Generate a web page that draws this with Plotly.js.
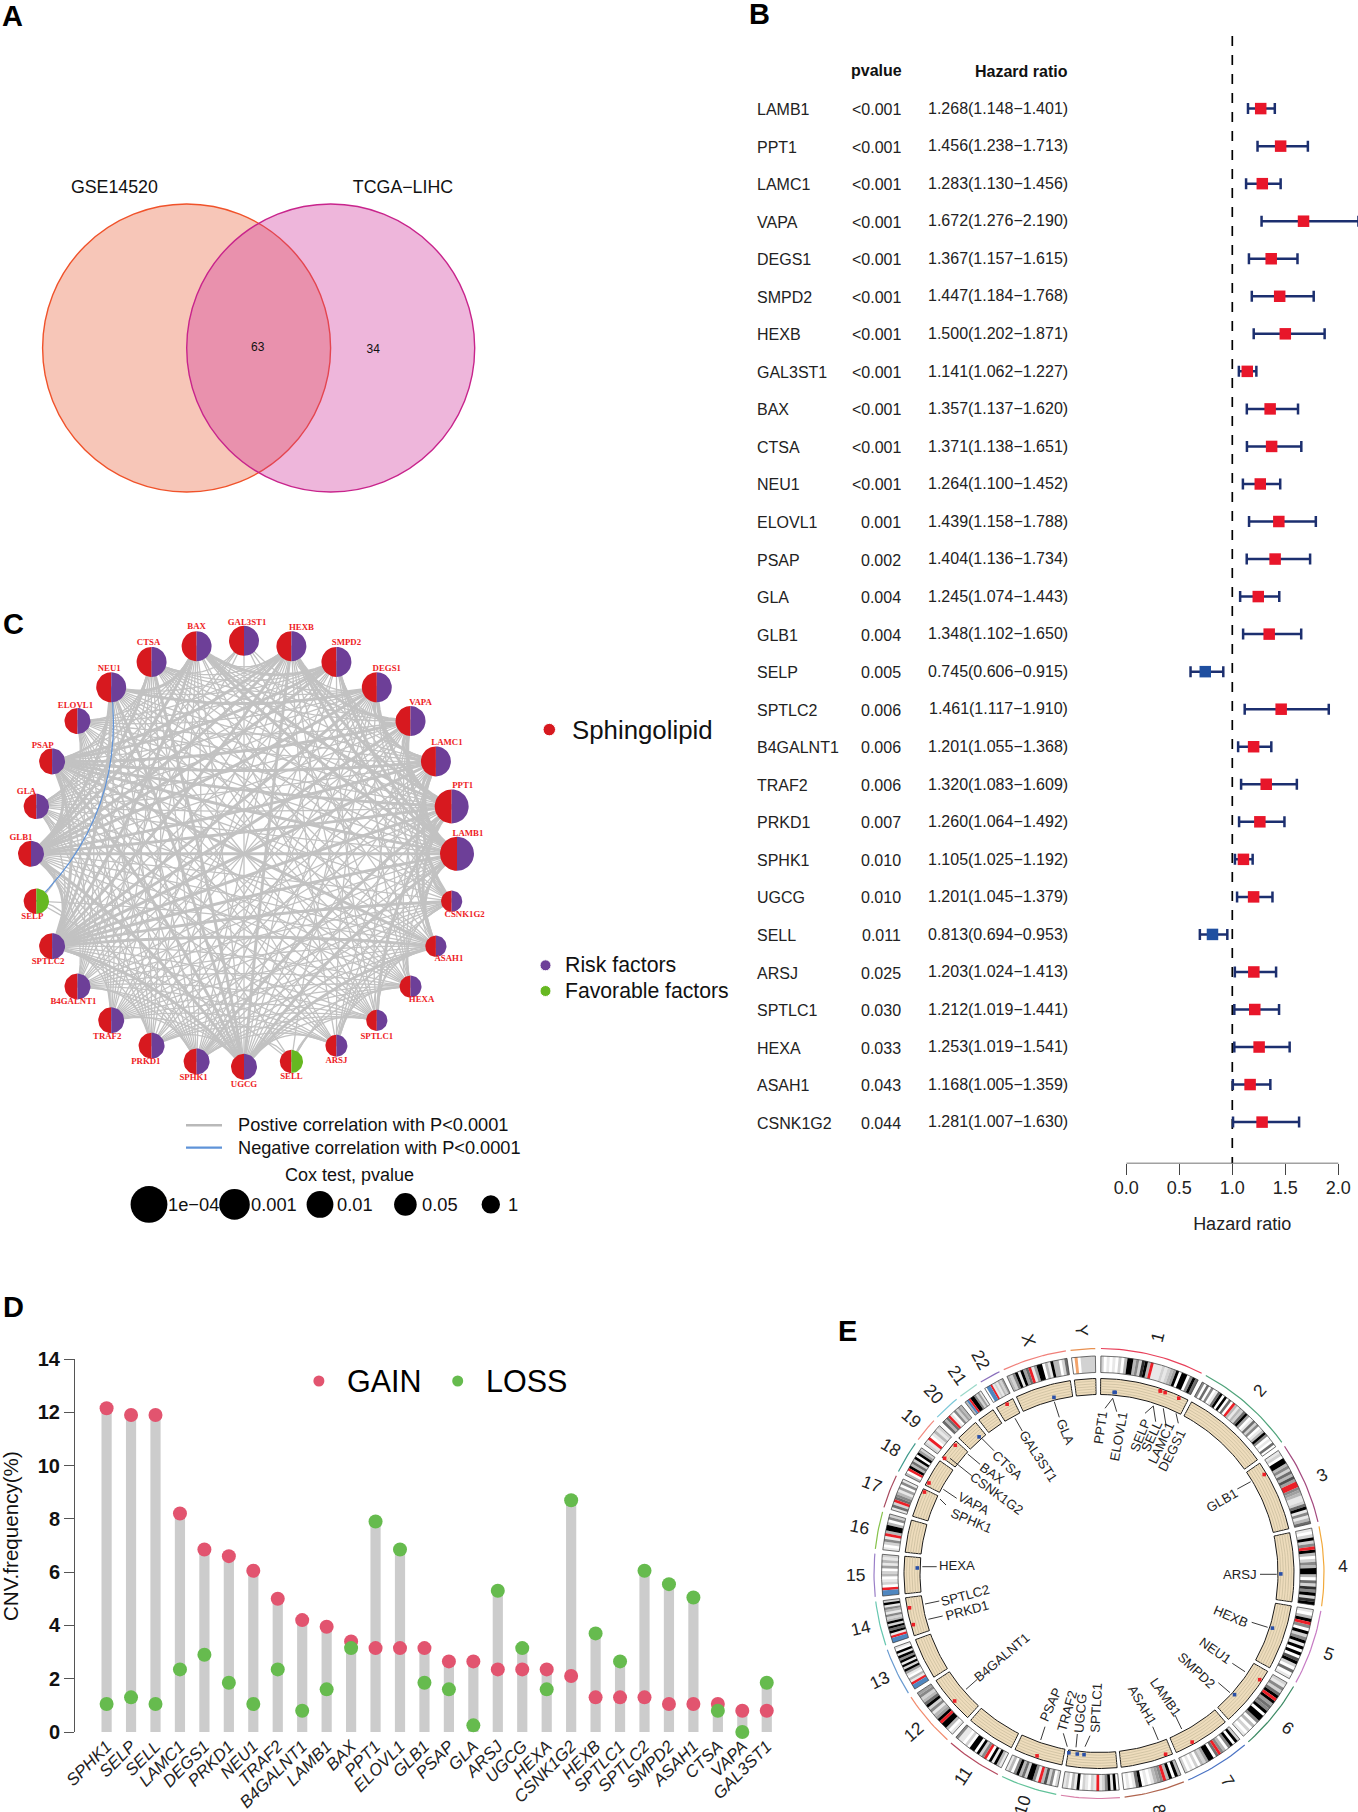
<!DOCTYPE html>
<html><head><meta charset="utf-8">
<script src="https://cdn.plot.ly/plotly-3.0.1.min.js"></script>
<style>html,body{margin:0;padding:0;background:#fff}#chart{width:1358px;height:1812px}</style>
</head><body><div id="chart"></div>
<script>
// ---------- shared categories ----------
const genes=["LAMB1","PPT1","LAMC1","VAPA","DEGS1","SMPD2","HEXB","GAL3ST1","BAX","CTSA","NEU1","ELOVL1","PSAP","GLA","GLB1","SELP","SPTLC2","B4GALNT1","TRAF2","PRKD1","SPHK1","UGCG","SELL","ARSJ","SPTLC1","HEXA","ASAH1","CSNK1G2"];
// ---------- panel A ----------
const vennLabels=["GSE14520","TCGA−LIHC"];
const vennCounts=[63,34];
// ---------- panel B ----------
const pvalues=["<0.001","<0.001","<0.001","<0.001","<0.001","<0.001","<0.001","<0.001","<0.001","<0.001","<0.001","0.001","0.002","0.004","0.004","0.005","0.006","0.006","0.006","0.007","0.010","0.010","0.011","0.025","0.030","0.033","0.043","0.044"];
const hazard=[1.268,1.456,1.283,1.672,1.367,1.447,1.500,1.141,1.357,1.371,1.264,1.439,1.404,1.245,1.348,0.745,1.461,1.201,1.320,1.260,1.105,1.201,0.813,1.203,1.212,1.253,1.168,1.281];
const hazardLow=[1.148,1.238,1.130,1.276,1.157,1.184,1.202,1.062,1.137,1.138,1.100,1.158,1.136,1.074,1.102,0.606,1.117,1.055,1.083,1.064,1.025,1.045,0.694,1.024,1.019,1.019,1.005,1.007];
const hazardHigh=[1.401,1.713,1.456,2.190,1.615,1.768,1.871,1.227,1.620,1.651,1.452,1.788,1.734,1.443,1.650,0.915,1.910,1.368,1.609,1.492,1.192,1.379,0.953,1.413,1.441,1.541,1.359,1.630];
// ---------- panel C ----------
const coxLegendLabels=["1e−04","0.001","0.01","0.05","1"];
const linksThick=[[1,2,3,5,6,8,12,14,16,21,26,27],[2,3,4,6,8,12,14,16,20,24,26],[3,4,12,14,16,26,27],[4,6,12,16],[10,14,16],[8,12,14],[12,14,16,21],[],[10,14,16],[14,21],[14,16,21],[],[14,16,21,26],[],[16,21],[],[21,26,27],[],[],[],[],[26]];
const linksThin=[[4,7,9,10,11,13,17,18,19,20,23,25],[5,9,10,11,13,17,18,21,23,25],[5,6,8,9,10,11,13,18,19,20,21,23,25],[5,7,8,9,11,13,14,17,18,19,20,21,24,25,26,27],[6,8,9,11,12,13,17,18,19,20,21,22,23,25,27],[6,9,10,11,13,16,17,18,20,21,24,26,27],[8,9,10,11,13,17,18,19,20,23,24,25,27],[9,13,14,16,21,26],[9,11,12,13,17,18,19,20,21,24,25,27],[11,12,13,16,17,18,19,20,24,25,26,27],[12,13,17,18,19,20,23,24,25,26,27],[13,14,16,17,18,19,20,21,23,24,25,26],[13,17,18,19,20,22,23,24,25,27],[14,16,18,19,20,21,23,24,25,26],[15,17,18,19,20,23,24,25,26,27],[16,20,26],[18,19,20,22,23,24,25],[19,20,21,23,24,25,26,27],[20,21,23,24,25,26,27],[21,23,24,25,26,27],[23,24,25,26,27],[22,23,24,25,27],[24,25,26],[24,25,26,27],[25,26,27],[26,27],[27]];
const linksNegative=[[10,15]];
const favorableGenes=["SELP","SELL"];
// ---------- panel D ----------
const cnvGenes=["SPHK1","SELP","SELL","LAMC1","DEGS1","PRKD1","NEU1","TRAF2","B4GALNT1","LAMB1","BAX","PPT1","ELOVL1","GLB1","PSAP","GLA","ARSJ","UGCG","HEXA","CSNK1G2","HEXB","SPTLC1","SPTLC2","SMPD2","ASAH1","CTSA","VAPA","GAL3ST1"];
const cnvGain=[12.15,11.9,11.9,8.2,6.85,6.6,6.05,5.0,4.2,3.95,3.4,3.15,3.15,3.15,2.65,2.65,2.35,2.35,2.35,2.1,1.3,1.3,1.3,1.05,1.05,1.05,0.8,0.8];
const cnvLoss=[1.05,1.3,1.05,2.35,2.9,1.85,1.05,2.35,0.8,1.6,3.15,7.9,6.85,1.85,1.6,0.25,5.3,3.15,1.6,8.7,3.7,2.65,6.05,5.55,5.05,0.8,0,1.85];
// ---------- panel E ----------
const chrNames=["1","2","3","4","5","6","7","8","9","10","11","12","13","14","15","16","17","18","19","20","21","22","X","Y"];
const chrLength=[249,243,198,191,181,171,159,146,141,136,135,134,115,107,103,90,81,78,59,63,48,51,155,59];
const chrBands=["20101020399352893r1112123490990596","50605016909060r3132694016250139501060","120993526374rr5431126915136","102925r930253993062859289","1039r509259190907920601","215269r946590995030201","29095035r6099423020102","39093r5431010961010","0919521r120120913021","205273r159926395031","139190r529099020115","10399r943152963254","bbr1301492919591901","bbr196929325135192","bbr021032041312","10251r3993052","162r65314051","30r936290942","21r01312","636r105243","3br995241","0bbr121324","32591946r1499031933026","0o022222"];
const geneChr=["7","1","1","18","1","6","5","22","19","20","6","1","10","X","3","1","14","12","9","14","17","9","1","4","9","15","8","19"];
const geneMb=[107,40,183,10,224,109,74,30,49,44,31,43,73,100,33,169,78,58,139,30,74,114,169,114,94,72,18,2];
const geneOuterTrack=["LAMB1","LAMC1","VAPA","DEGS1","GAL3ST1","BAX","NEU1","PSAP","GLB1","SELP","SPTLC2","B4GALNT1","PRKD1","SPHK1","SELL","ASAH1","CSNK1G2"];

// ---------- page geometry helpers ----------
const W=1358,H=1812;
const FONT='"Liberation Sans",Arial,sans-serif';
const domX=(a,b)=>[a/W,b/W], domY=(top,bot)=>[1-bot/H,1-top/H];
const ann=(text,x,y,size,o={})=>{
  const anchor=o.anchor||'left';
  const nudge=anchor==='left'?-2.2:anchor==='right'?2.2:0;
  return {text:String(text),xref:'paper',yref:'paper',x:(x+nudge)/W,y:1-y/H,showarrow:false,xanchor:anchor,yanchor:'middle',textangle:o.angle||0,font:{family:FONT,size,color:o.color||'#111'}};
};
const traces=[],annotations=[],shapes=[];

// panel letters
[["A",0,16],["B",747,14],["C",1,624],["D",1,1307],["E",836,1331]].forEach(p=>{
  annotations.push(ann('<b>'+p[0]+'</b>',p[1]+2.2,p[2],29,{color:'#000'}));
});

// ========== A: Venn ==========
shapes.push({type:'circle',xref:'x3',yref:'y3',x0:42.6,x1:330.6,y0:204,y1:492,layer:'below',fillcolor:'rgba(232,92,52,0.35)',line:{color:'#f0522a',width:1.4}});
shapes.push({type:'circle',xref:'x3',yref:'y3',x0:186.7,x1:474.7,y0:204,y1:492,layer:'below',fillcolor:'rgba(206,46,152,0.35)',line:{color:'#c8248c',width:1.4}});
traces.push({type:'scatter',mode:'text',xaxis:'x3',yaxis:'y3',x:[114.4,403],y:[188.3,188.3],text:vennLabels,textfont:{family:FONT,size:17.8,color:'#111'},textposition:'middle center',cliponaxis:false,hoverinfo:'skip',showlegend:false});
traces.push({type:'scatter',mode:'text',xaxis:'x3',yaxis:'y3',x:[257.7,373.3],y:[347.7,350],text:vennCounts.map(String),textfont:{family:FONT,size:12,color:'#111'},textposition:'middle center',hoverinfo:'skip',showlegend:false});

// ========== B: forest ==========
const rowOf=genes.map((g,i)=>i);
const rowY0=109.6,rowStep=37.54;
traces.push({type:'scatter',mode:'lines',xaxis:'x2',yaxis:'y2',x:[1,1],y:[-1.934,28.1],line:{color:'#000',width:1.7,dash:'10px,9px'},hoverinfo:'skip',showlegend:false});
traces.push({type:'scatter',mode:'lines',xaxis:'x2',yaxis:'y2',x:[0,2],y:[28.1,28.1],line:{color:'#444',width:1.2},cliponaxis:false,hoverinfo:'skip',showlegend:false});
traces.push({type:'scatter',mode:'markers',xaxis:'x2',yaxis:'y2',x:hazard,y:rowOf,
  marker:{symbol:'square',size:11.5,color:hazard.map(h=>h>1?'#e8162a':'#1f4fa0')},
  error_x:{type:'data',symmetric:false,array:hazard.map((h,i)=>hazardHigh[i]-h),arrayminus:hazard.map((h,i)=>h-hazardLow[i]),color:'#1c2f6f',thickness:2.5,width:5.5},
  cliponaxis:false,hoverinfo:'skip',showlegend:false});
annotations.push(ann('<b>pvalue</b>',876.8,70.5,16,{anchor:'center'}));
annotations.push(ann('<b>Hazard ratio</b>',1068,72,16,{anchor:'right'}));
genes.forEach((g,i)=>{
  const y=rowY0+rowStep*i;
  annotations.push(ann(g,757,y,16,{color:'#222'}));
  annotations.push(ann(pvalues[i],901,y,16,{anchor:'right',color:'#222'}));
  annotations.push(ann(hazard[i].toFixed(3)+'('+hazardLow[i].toFixed(3)+'−'+hazardHigh[i].toFixed(3)+')',1068,y-1.3,16,{anchor:'right',color:'#222'}));
});

// ========== C: network ==========
const cCx=244,cCy=853.8,cR=213;
const nodeSize=[17,17,15,15,15,15,15,15,15,15,15,13,13,12.7,13,12.7,13,13,13,13,13,13,11.6,11,10.6,11,10.6,10.6];
const nodeLabelOffset=[[11,-20],[11,-20.6],[11,-18.5],[10,-18.5],[10,-18.5],[10,-19],[10,-18.5],[3,-18],[0,-19],[-3,-19],[-2,-18.5],[-2,-15],[-9.4,-15.6],[-10,-14.7],[-10,-15.6],[-4,15.6],[-4,15.6],[-4,15.6],[-4,16.4],[-5.7,16],[-3,16],[0,18.5],[0,15.6],[0,15.6],[0,16],[11,13.5],[13,13],[13,14]];
const nodeXY=genes.map((g,i)=>{const a=i*2*Math.PI/genes.length;return [cR*Math.cos(a),cR*Math.sin(a)];});
function edgePath(list,pull){
  const xs=[],ys=[];
  list.forEach(([i,j])=>{
    const [x0,y0]=nodeXY[i],[x1,y1]=nodeXY[j];
    const cx=(x0+x1)/2*pull, cy=(y0+y1)/2*pull;
    for(let k=0;k<=14;k++){const t=k/14,u=1-t;xs.push(u*u*x0+2*u*t*cx+t*t*x1);ys.push(u*u*y0+2*u*t*cy+t*t*y1);}
    xs.push(null);ys.push(null);
  });
  return {x:xs,y:ys};
}
const flatten=links=>links.flatMap((l,i)=>l.map(j=>[i,j]));
[[flatten(linksThin),1.3,'#c2c2c2',0.8],[flatten(linksThick),3,'#c2c2c2',0.8],[linksNegative,1.2,'#5f93d8',0.69]].forEach(([list,w,c,pull])=>{
  const p=edgePath(list,pull);
  traces.push({type:'scatter',mode:'lines',xaxis:'x4',yaxis:'y4',x:p.x,y:p.y,line:{color:c,width:w},hoverinfo:'skip',showlegend:false});
});
function halfDisc(cx,cy,r,from,to){
  const xs=[],ys=[];
  for(let k=0;k<=24;k++){const a=(from+(to-from)*k/24)*Math.PI/180;xs.push(cx+r*Math.cos(a));ys.push(cy+r*Math.sin(a));}
  xs.push(xs[0],null);ys.push(ys[0],null);
  return [xs,ys];
}
const halves={red:[[],[]],purple:[[],[]],green:[[],[]]};
genes.forEach((g,i)=>{
  const [x,y]=nodeXY[i],r=nodeSize[i];
  const L=halfDisc(x,y,r,90,270),R=halfDisc(x,y,r,-90,90);
  halves.red[0].push(...L[0]);halves.red[1].push(...L[1]);
  const t=favorableGenes.includes(g)?halves.green:halves.purple;
  t[0].push(...R[0]);t[1].push(...R[1]);
});
[['red','#d7191f'],['purple','#6d3f98'],['green','#66b821']].forEach(([k,c])=>{
  traces.push({type:'scatter',mode:'lines',xaxis:'x4',yaxis:'y4',x:halves[k][0],y:halves[k][1],fill:'toself',fillcolor:c,line:{width:0,color:c},hoverinfo:'skip',showlegend:false});
});
traces.push({type:'scatter',mode:'text',xaxis:'x4',yaxis:'y4',x:nodeXY.map((p,i)=>p[0]+nodeLabelOffset[i][0]),y:nodeXY.map((p,i)=>p[1]-nodeLabelOffset[i][1]),text:genes.map(g=>'<b>'+g+'</b>'),textposition:'middle center',textfont:{family:'"Liberation Serif",serif',size:8.8,color:'#ee1c25'},cliponaxis:false,hoverinfo:'skip',showlegend:false});
// C legends
const cX=p=>p-cCx,cY=p=>cCy-p;
traces.push({type:'scatter',mode:'markers',xaxis:'x4',yaxis:'y4',x:[549.3,545.5,545.5].map(cX),y:[729.6,965.3,991].map(cY),marker:{size:[12.5,11,11],opacity:1,color:['#d7191f','#6d3f98','#66b821']},cliponaxis:false,hoverinfo:'skip',showlegend:false});
annotations.push(ann('Sphingolipid',572.4,729.6,25.8,{color:'#111'}));
annotations.push(ann('Risk factors',565.4,965.3,21.3));
annotations.push(ann('Favorable factors',565.4,991,21.2));
traces.push({type:'scatter',mode:'lines',xaxis:'x4',yaxis:'y4',x:[186,222].map(cX),y:[1125.3,1125.3].map(cY),line:{color:'#b9b9b9',width:2.4},hoverinfo:'skip',showlegend:false});
traces.push({type:'scatter',mode:'lines',xaxis:'x4',yaxis:'y4',x:[186,222].map(cX),y:[1147.6,1147.6].map(cY),line:{color:'#5f93d8',width:2.4},hoverinfo:'skip',showlegend:false});
annotations.push(ann('Postive correlation with P<0.0001',237.8,1125.3,18.2));
annotations.push(ann('Negative correlation with P<0.0001',237.8,1147.6,18.2));
annotations.push(ann('Cox test, pvalue',349.7,1175,18,{anchor:'center'}));
traces.push({type:'scatter',mode:'markers',xaxis:'x4',yaxis:'y4',x:[149,234.5,320,405.4,490.8].map(cX),y:[1204.4,1204.4,1204.4,1204.4,1204.4].map(cY),marker:{size:[36.8,30.6,26.8,22.6,18.4],opacity:1,color:'#000',line:{width:0}},hoverinfo:'skip',showlegend:false});
coxLegendLabels.forEach((t,i)=>annotations.push(ann(t,[168,251.5,337,422,508][i],1204.4,18.3)));

// ========== D: CNV lollipop ==========
const dIdx=cnvGenes.map((g,i)=>i);
const dStep=24.45,dX0=106.6,dY0=1732,dUnit=373/14;
traces.push({type:'bar',xaxis:'x',yaxis:'y',x:dIdx,y:cnvGain.map((g,i)=>Math.max(g,cnvLoss[i])),width:0.417,marker:{color:'#cccccc',line:{width:0}},hoverinfo:'skip',showlegend:false});
traces.push({type:'scatter',mode:'markers',xaxis:'x',yaxis:'y',name:'GAIN',x:dIdx,y:cnvGain,marker:{size:14,color:'#e2546f'},cliponaxis:false,hoverinfo:'skip',showlegend:false});
traces.push({type:'scatter',mode:'markers',xaxis:'x',yaxis:'y',name:'LOSS',x:dIdx,y:cnvLoss,marker:{size:14,color:'#66bb4e'},cliponaxis:false,hoverinfo:'skip',showlegend:false});
traces.push({type:'scatter',mode:'markers',xaxis:'x',yaxis:'y',x:[(318.9-dX0)/dStep,(457.7-dX0)/dStep],y:[(dY0-1381)/dUnit,(dY0-1381)/dUnit],marker:{size:11,color:['#e2546f','#66bb4e']},hoverinfo:'skip',showlegend:false});
annotations.push(ann('GAIN',347,1381,30.5,{color:'#000'}));
annotations.push(ann('LOSS',485.7,1381,30.5,{color:'#000'}));
annotations.push(ann('CNV.frequency(%)',10,1536,20.6,{anchor:'center',angle:-90}));

// ========== E: circular genome ==========
const eCx=1099,eCy=1573.5;
const deg=0.107,gap=1.2;
const chrStart=[];let acc=0.5;
chrLength.forEach((L,i)=>{chrStart.push(acc);acc+=L*deg+gap;});
const polar=(r,th)=>{const a=th*Math.PI/180;return [r*Math.sin(a),r*Math.cos(a)];};
function sector(r0,r1,a0,a1,store){
  const n=Math.max(2,Math.ceil((a1-a0)/1.2));
  for(let k=0;k<=n;k++){const [x,y]=polar(r1,a0+(a1-a0)*k/n);store[0].push(x);store[1].push(y);}
  for(let k=n;k>=0;k--){const [x,y]=polar(r0,a0+(a1-a0)*k/n);store[0].push(x);store[1].push(y);}
  const [x,y]=polar(r1,a0);store[0].push(x,null);store[1].push(y,null);
}
const bandColor={'0':'#ffffff','1':'#e8e8e8','2':'#d2d2d2','3':'#b8b8b8','4':'#a0a0a0','5':'#888888','6':'#6e6e6e','7':'#505050','8':'#2e2e2e','9':'#000000','r':'#ec1f27','b':'#4f87c0','o':'#f2a36a'};
const bandStore={};Object.keys(bandColor).forEach(k=>bandStore[k]=[[],[]]);
const tanStore=[[],[]],ideoOutline=[[],[]];
chrBands.forEach((s,i)=>{
  const a0=chrStart[i],span=chrLength[i]*deg,w=span/s.length;
  [...s].forEach((c,k)=>sector(201,217.5,a0+k*w,a0+(k+1)*w,bandStore[c]));
  sector(201,217.5,a0,a0+span,ideoOutline);
  sector(179,195,a0,a0+span,tanStore);
});
Object.keys(bandColor).forEach(k=>{
  if(!bandStore[k][0].length)return;
  traces.push({type:'scatter',mode:'lines',xaxis:'x5',yaxis:'y5',x:bandStore[k][0],y:bandStore[k][1],fill:'toself',fillcolor:bandColor[k],line:{width:0,color:bandColor[k]},hoverinfo:'skip',showlegend:false});
});
traces.push({type:'scatter',mode:'lines',xaxis:'x5',yaxis:'y5',x:ideoOutline[0],y:ideoOutline[1],line:{color:'#333',width:0.7},hoverinfo:'skip',showlegend:false});
traces.push({type:'scatter',mode:'lines',xaxis:'x5',yaxis:'y5',x:tanStore[0],y:tanStore[1],fill:'toself',fillcolor:'#eedcbc',line:{color:'#1a1a1a',width:1},hoverinfo:'skip',showlegend:false});
const tanLines=[[],[]];
chrLength.forEach((L,i)=>{[181.7,184.4,187,189.7,192.4].forEach(r=>{
  const n=Math.ceil(L*deg/1.2);
  for(let k=0;k<=n;k++){const [x,y]=polar(r,chrStart[i]+L*deg*k/n);tanLines[0].push(x);tanLines[1].push(y);}
  tanLines[0].push(null);tanLines[1].push(null);
});});
traces.push({type:'scatter',mode:'lines',xaxis:'x5',yaxis:'y5',x:tanLines[0],y:tanLines[1],line:{color:'#cbbf9f',width:0.8},hoverinfo:'skip',showlegend:false});
const chrArcColor=['#e8405a','#4fa37a','#a34a7f','#f2a93b','#c77cc4','#3d8b65','#4a73c4','#b0654f','#d87fa8','#62c29a','#b5495f','#f28b6d','#6a9bd0','#66c7b0','#9a7fc8','#86c24a','#a84a5f','#3f9a8c','#f08a80','#7cc8d8','#9ad8c8','#8a6fbc','#f0807a','#e89050'];
chrLength.forEach((L,i)=>{
  const xs=[],ys=[],n=Math.ceil(L*deg/1.2);
  for(let k=0;k<=n;k++){const [x,y]=polar(225,chrStart[i]+L*deg*k/n);xs.push(x);ys.push(y);}
  traces.push({type:'scatter',mode:'lines',xaxis:'x5',yaxis:'y5',x:xs,y:ys,line:{color:chrArcColor[i],width:1.2},hoverinfo:'skip',showlegend:false});
  const th=chrStart[i]+L*deg/2,[lx,ly]=polar(244,th);
  annotations.push(ann(chrNames[i],eCx+lx,eCy-ly,17.5,{anchor:'center',angle:th<=180?th-90:th-270,color:'#222'}));
});
const geneAngle=genes.map((g,i)=>{const c=chrNames.indexOf(geneChr[i]);return chrStart[c]+geneMb[i]*deg;});
const outerPts=[[],[]],innerPts=[[],[]];
genes.forEach((g,i)=>{
  const out=geneOuterTrack.includes(g),[x,y]=polar(out?192.6:181.8,geneAngle[i]);
  const t=out?outerPts:innerPts;t[0].push(x);t[1].push(y);
});
traces.push({type:'scatter',mode:'markers',xaxis:'x5',yaxis:'y5',x:outerPts[0],y:outerPts[1],marker:{symbol:'square',size:3.6,color:'#ec1f27'},hoverinfo:'skip',showlegend:false});
traces.push({type:'scatter',mode:'markers',xaxis:'x5',yaxis:'y5',x:innerPts[0],y:innerPts[1],marker:{symbol:'square',size:3.6,color:'#2a50a8'},hoverinfo:'skip',showlegend:false});
// gene label layout: centre x, centre y, rotation, leader x0,y0,x1,y1 (page pixels)
const geneLabelLayout={
 GLA:[1065,1431.7,67,1054.3,1401.7,1059.3,1417.3],GAL3ST1:[1038.3,1456.7,57,1015,1418.3,1022.3,1431],CTSA:[1007.7,1465,43,981.7,1438.3,994,1450.7],BAX:[992.3,1473.3,35,967.7,1454,980,1464.3],CSNK1G2:[996.7,1493.3,36,950,1458.3,971.7,1475.7],VAPA:[973.3,1503.3,28,943.3,1489.3,956.7,1498.3],SPHK1:[971,1520,23,940,1499,946,1505],HEXA:[957.3,1565.3,0,922.3,1566.7,936.7,1566.7],
 SPTLC2:[965,1595,-15,925,1604,939.3,1601],PRKD1:[967.3,1610,-15,928.3,1619.3,942.7,1616],B4GALNT1:[1001.7,1657.3,-40,966,1689.3,977.3,1679.3],PSAP:[1050,1705,-66,1040.7,1740,1045,1726.7],TRAF2:[1066.7,1711,-74,1067.3,1746.7,1063.3,1733.3],UGCG:[1080,1713,-85,1076,1747.3,1077.3,1734],SPTLC1:[1095.7,1708,-87,1085,1746.7,1090,1735.7],
 ASAH1:[1142.7,1705,60,1158.3,1740,1152.7,1726.7],LAMB1:[1165,1696.7,55,1181.7,1729,1175,1715],SMPD2:[1196.7,1670,43,1230,1692.7,1218.3,1682.7],NEU1:[1215,1650,35,1245,1671.7,1232.3,1663.3],HEXB:[1231,1616,23,1267.7,1627.3,1251.7,1622.3],ARSJ:[1240,1574.5,0,1276.7,1574.3,1260,1574.3],GLB1:[1221.7,1500,-30,1250.7,1481.7,1237.3,1489],
 DEGS1:[1171.7,1450,-63,1176,1413.3,1178.3,1423.3],LAMC1:[1160.7,1443,-65,1163.3,1408.3,1166,1425],SELL:[1151.7,1436.7,-65,1153.3,1406,1155.7,1421.7],SELP:[1140,1435,-68,1153.3,1406,1145,1413.3],ELOVL1:[1118.3,1436,-80,1112.7,1398.3,1116.7,1411.7],PPT1:[1100,1428,-82,1112.7,1398.3,1105,1408.3]};
const leadX=[],leadY=[];
genes.forEach(g=>{
  const p=geneLabelLayout[g];
  annotations.push(ann(g,p[0],p[1],13.2,{anchor:'center',angle:p[2],color:'#222'}));
  leadX.push(p[3]-eCx,p[5]-eCx,null);leadY.push(eCy-p[4],eCy-p[6],null);
});
traces.push({type:'scatter',mode:'lines',xaxis:'x5',yaxis:'y5',x:leadX,y:leadY,line:{color:'#222',width:0.9},hoverinfo:'skip',showlegend:false});

const hidden=(rng,anchor)=>({range:rng,visible:false,fixedrange:true,anchor});
const layout={
 width:W,height:H,margin:{l:0,r:0,t:0,b:0},paper_bgcolor:'#fff',plot_bgcolor:'rgba(0,0,0,0)',showlegend:false,hovermode:false,
 font:{family:FONT,color:'#111'},
 // D
 xaxis:{domain:domX(75,790),range:[(75-dX0)/dStep,(790-dX0)/dStep],tickmode:'array',tickvals:dIdx,ticktext:cnvGenes,tickangle:-45,ticks:'',tickfont:{family:FONT,size:17,style:'italic',color:'#222'},showgrid:false,zeroline:false,showline:false,anchor:'y',fixedrange:true},
 yaxis:{domain:domY(1359,1732),range:[0,14],tickmode:'array',tickvals:[0,2,4,6,8,10,12,14],ticktext:['<b>0</b>','<b>2</b>','<b>4</b>','<b>6</b>','<b>8</b>','<b>10</b>','<b>12</b>','<b>14</b>'],ticks:'outside',ticklen:10,tickwidth:1,tickcolor:'#555',showline:true,linecolor:'#555',linewidth:1,showgrid:false,zeroline:false,tickfont:{family:FONT,size:20,color:'#111'},anchor:'x',fixedrange:true},
 // B
 xaxis2:{domain:domX(1126.3,1358),range:[0,(1358-1126.3)/106],tickmode:'array',tickvals:[0,0.5,1,1.5,2],ticktext:['0.0','0.5','1.0','1.5','2.0'],ticks:'outside',ticklen:11,tickwidth:1.2,tickcolor:'#444',ticklabelstandoff:-3,showgrid:false,zeroline:false,showline:false,tickfont:{family:FONT,size:18,color:'#222'},title:{text:'Hazard ratio',font:{family:FONT,size:18,color:'#222'},standoff:20},anchor:'y2',fixedrange:true},
 yaxis2:{domain:domY(36,1163.4),range:[28.1,-1.934],visible:false,anchor:'x2',fixedrange:true},
 // A
 xaxis3:Object.assign(hidden([0,520],'y3'),{domain:domX(0,520)}),yaxis3:Object.assign(hidden([520,150],'x3'),{domain:domY(150,520)}),
 // C
 xaxis4:Object.assign(hidden([0-cCx,740-cCx],'y4'),{domain:domX(0,740)}),yaxis4:Object.assign(hidden([cCy-1240,cCy-610],'x4'),{domain:domY(610,1240)}),
 // E
 xaxis5:Object.assign(hidden([850-eCx,1358-eCx],'y5'),{domain:domX(850,1358)}),yaxis5:Object.assign(hidden([eCy-1812,eCy-1330],'x5'),{domain:domY(1330,1812)}),
 annotations,shapes
};
Plotly.newPlot('chart',traces,layout,{displayModeBar:false,responsive:false});
</script></body></html>
